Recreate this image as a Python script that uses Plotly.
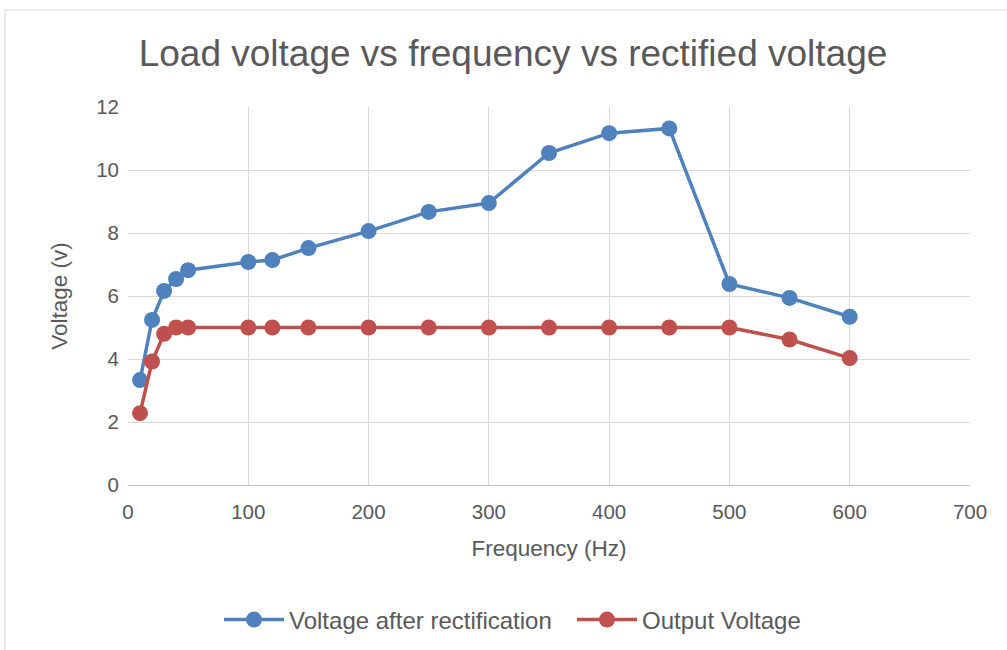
import plotly.graph_objects as go

freq = [10, 20, 30, 40, 50, 100, 120, 150, 200, 250, 300, 350, 400, 450, 500, 550, 600]
v_rect = [3.33, 5.24, 6.16, 6.54, 6.82, 7.08, 7.14, 7.52, 8.06, 8.67, 8.95, 10.54, 11.17, 11.32, 6.38, 5.94, 5.34]
v_out = [2.28, 3.92, 4.8, 5.0, 5.0, 5.0, 5.0, 5.0, 5.0, 5.0, 5.0, 5.0, 5.0, 5.0, 5.0, 4.62, 4.03]

font_family = "Liberation Sans"
gray = "#595959"

fig = go.Figure()
fig.add_trace(go.Scatter(x=freq, y=v_rect, mode="lines+markers", name="Voltage after rectification",
                         line=dict(color="#4F81BD", width=3.5), marker=dict(color="#4F81BD", size=16)))
fig.add_trace(go.Scatter(x=freq, y=v_out, mode="lines+markers", name="Output Voltage",
                         line=dict(color="#C0504D", width=3.5), marker=dict(color="#C0504D", size=16)))

L, R, T, B = 128, 37, 107, 165
W, H = 1007, 650
pw, ph = W - L - R, H - T - B
def px(x): return (x - L) / pw
def py(y): return (H - B - y) / ph

fig.update_layout(
    width=W, height=H,
    margin=dict(l=L, r=R, t=T, b=B, autoexpand=False),
    paper_bgcolor="white", plot_bgcolor="white",
    font=dict(family=font_family, color=gray, size=20),
    title=dict(text="Load voltage vs frequency vs rectified voltage", font=dict(size=37, color=gray),
               x=px(513), xref="paper", xanchor="center", y=1 - 53 / H, yanchor="middle"),
    xaxis=dict(range=[0, 700], dtick=100, showgrid=True, gridcolor="#D9D9D9", gridwidth=1.3,
               zeroline=False, showline=True, linecolor="#BFBFBF", linewidth=1.3,
               tickfont=dict(size=20.5, color=gray), ticks="", automargin=False, ticklabelstandoff=8,
               title=dict(text="Frequency (Hz)", font=dict(size=22.5, color=gray), standoff=18)),
    yaxis=dict(range=[0, 12], dtick=2, showgrid=True, gridcolor="#D9D9D9", gridwidth=1.3,
               zeroline=False, showline=False, tickfont=dict(size=20.5, color=gray), ticks="",
               automargin=False, ticklabelstandoff=8,
               title=dict(text="Voltage (v)", font=dict(size=22.5, color=gray), standoff=22)),
    legend=dict(orientation="h", x=px(225 - 6), xanchor="left", y=py(620), yanchor="middle",
                font=dict(size=24, color=gray), itemwidth=60, traceorder="normal", entrywidth=278),
    showlegend=True,
    shapes=[
        dict(type="line", xref="paper", yref="paper", x0=px(5), x1=px(5), y0=py(650), y1=py(10),
             line=dict(color="#D9D9D9", width=1)),
        dict(type="line", xref="paper", yref="paper", x0=px(5), x1=px(1007), y0=py(10), y1=py(10),
             line=dict(color="#D9D9D9", width=1)),
    ],
)

fig.write_html("out.html", config={"displayModeBar": False},
               post_script="document.body.style.margin='0';")
